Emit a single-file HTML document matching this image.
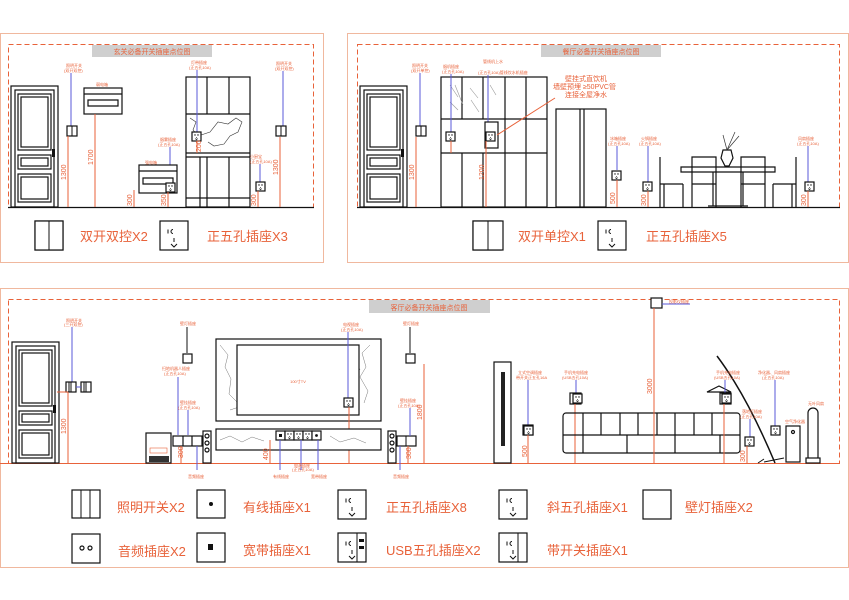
<!DOCTYPE html>
<html><head><meta charset="utf-8"><style>
html,body{margin:0;padding:0;background:#fff;}
svg{display:block;font-family:"Liberation Sans","Noto Sans CJK SC",sans-serif;}
.o{stroke:#e8623a;fill:none;stroke-width:1}
.k{stroke:#111;fill:#fff;stroke-width:1.2}
.kn{stroke:#111;fill:none;stroke-width:1.2}
.b{stroke:#5a5ad8;stroke-width:1;fill:none}
.t{fill:#e8623a;font-size:13px}
.s{fill:#e8623a;font-size:4px}
.d{fill:#e8623a;font-size:7px}
</style></head><body>
<svg width="849" height="600" viewBox="0 0 849 600">
<defs>
<g id="out"><rect x="0" y="0" width="9" height="9" class="k"/><circle cx="3" cy="3" r=".7" fill="#111"/><circle cx="6" cy="3" r=".7" fill="#111"/><path d="M4.5 5v1.3M3.3 6.5l1.2 1.3 1.2-1.3" stroke="#111" stroke-width=".6" fill="none"/></g>
<g id="sw"><rect x="0" y="0" width="10" height="10" class="k"/><line x1="5" y1="0" x2="5" y2="10" stroke="#111"/></g>
<g id="door"><rect x="0" y="0" width="47" height="121" class="k" stroke-width="1.5"/><rect x="4" y="4" width="39" height="117" class="kn"/><rect x="7" y="8" width="33" height="56" class="kn"/><rect x="10" y="11" width="27" height="50" class="kn"/><rect x="7" y="69" width="33" height="14" class="kn"/><rect x="10" y="72" width="27" height="8" class="kn"/><rect x="7" y="88" width="33" height="28" class="kn"/><rect x="10" y="91" width="27" height="22" class="kn"/><rect x="41" y="63" width="3" height="8" fill="#111"/></g>
<g id="bigout"><rect x="0" y="0" width="28" height="29" class="k" stroke-width="1.3"/><path d="M8 8.5v4M13 8.5a2 2 0 0 0 0 4M14 17v4M11 23l3 3 3-3" stroke="#111" stroke-width="1" fill="none"/></g>
</defs>

<!-- ================= TOP LEFT ================= -->
<rect x="0.5" y="33.5" width="323" height="229" fill="none" stroke="#f0b89e" stroke-width="1"/>
<rect x="8.5" y="44.5" width="305" height="163" class="o" stroke-dasharray="5,3"/>
<rect x="92" y="45" width="120" height="12" fill="#cfcfcf"/>
<text x="152" y="54" text-anchor="middle" class="d">玄关必备开关插座点位图</text>
<line x1="8" y1="207.5" x2="314" y2="207.5" stroke="#111" stroke-width="1.2"/>
<use href="#door" x="11" y="86"/>
<text x="66" y="67" class="s">照明开关</text><text x="64" y="72" class="s">(双开双控)</text>
<line x1="71" y1="73" x2="71" y2="126" class="b"/>
<use href="#sw" x="67" y="126"/>
<line x1="68" y1="136" x2="68" y2="207" class="o"/><text x="66" y="180" class="d" transform="rotate(-90 66 180)">1300</text>
<text x="96" y="86" class="s">弱电箱</text>
<rect x="84" y="88" width="38" height="26" class="k"/><path d="M84 94h38M88 100h30v6H88z" class="kn" stroke-width=".8"/>
<line x1="95" y1="114" x2="95" y2="207" class="o"/><text x="93" y="165" class="d" transform="rotate(-90 93 165)">1700</text>
<text x="160" y="141" class="s">烟雾插座</text><text x="158" y="146" class="s">(正五孔10A)</text>
<line x1="170" y1="147" x2="170" y2="183" class="b"/>
<text x="145" y="164" class="s">强电箱</text>
<rect x="139" y="165" width="38" height="28" class="k"/><path d="M139 171h38M143 178h30v6h-30z" class="kn" stroke-width=".8"/>
<use href="#out" x="166" y="183"/>
<line x1="134" y1="190" x2="134" y2="207" class="o"/><text x="132" y="206" class="d" transform="rotate(-90 132 206)">300</text>
<line x1="168" y1="192" x2="168" y2="207" class="o"/><text x="166" y="206" class="d" transform="rotate(-90 166 206)">350</text>
<!-- cabinet -->
<rect x="186" y="77" width="64" height="130" class="k" stroke-width="1.5"/>
<path d="M207 77v37M229 77v37M186 114h64M186 153h64M186 157h64M207 157v50M229 157v50M186 198h64M200 157v50" class="kn"/>
<path d="M190 118l6 4 -3 8 5 6 12 -4 8 -10 10 2 8 -6 6 4 -4 10 -8 4 -6 8 -10 2 -6 -4" stroke="#333" stroke-width=".6" fill="none"/>
<text x="191" y="64" class="s">灯带插座</text><text x="189" y="69" class="s">(正五孔10A)</text>
<line x1="197" y1="70" x2="197" y2="132" class="b"/>
<use href="#out" x="192" y="132"/>
<line x1="197" y1="141" x2="197" y2="153" class="o"/><text x="201" y="152" class="d" transform="rotate(-90 201 152)">200</text>
<text x="250" y="158" class="s">小厨宝</text><text x="250" y="163" class="s">(正五孔10A)</text>
<line x1="260" y1="164" x2="260" y2="182" class="b"/>
<use href="#out" x="256" y="182"/>
<line x1="258" y1="191" x2="258" y2="207" class="o"/><text x="256" y="206" class="d" transform="rotate(-90 256 206)">300</text>
<text x="276" y="65" class="s">照明开关</text><text x="275" y="70" class="s">(双开双控)</text>
<line x1="283" y1="71" x2="283" y2="126" class="b"/>
<use href="#sw" x="276" y="126"/>
<line x1="280" y1="137" x2="280" y2="207" class="o"/><text x="278" y="175" class="d" transform="rotate(-90 278 175)">1300</text>
<use href="#bigout" x="35" y="221" transform="translate(0 0)"/>
<rect x="35" y="221" width="28" height="29" class="k" stroke-width="1.3"/><line x1="49" y1="221" x2="49" y2="250" stroke="#111"/>
<text x="80" y="241" class="t" font-size="14">双开双控X2</text>
<use href="#bigout" x="160" y="221"/>
<text x="207" y="241" class="t" font-size="14">正五孔插座X3</text>

<!-- ================= TOP RIGHT ================= -->
<rect x="347.5" y="33.5" width="501" height="229" fill="none" stroke="#f0b89e" stroke-width="1"/>
<rect x="357.5" y="44.5" width="482" height="163" class="o" stroke-dasharray="5,3"/>
<rect x="541" y="45" width="120" height="12" fill="#cfcfcf"/>
<text x="601" y="54" text-anchor="middle" class="d">餐厅必备开关插座点位图</text>
<line x1="357" y1="207.5" x2="840" y2="207.5" stroke="#111" stroke-width="1.2"/>
<use href="#door" x="360" y="86"/>
<text x="412" y="67" class="s">照明开关</text><text x="411" y="72" class="s">(双开单控)</text>
<line x1="420" y1="73" x2="420" y2="126" class="b"/>
<use href="#sw" x="416" y="126"/>
<line x1="416" y1="137" x2="416" y2="207" class="o"/><text x="414" y="180" class="d" transform="rotate(-90 414 180)">1300</text>
<rect x="441" y="77" width="106" height="130" class="k" stroke-width="1.5"/>
<path d="M462 77v42M483 77v42M505 77v130M526 77v130M441 119h106M441 153h106M462 153v54M483 153v54" class="kn"/>
<path d="M450 85l8 12M455 85l8 20M470 88l8 10M471 100l8 12M490 85l6 10M450 102l8 8" stroke="#999" stroke-width=".6"/>
<text x="443" y="68" class="s">烟机插座</text><text x="442" y="73" class="s">(正五孔10A)</text>
<line x1="451" y1="74" x2="451" y2="132" class="b"/>
<use href="#out" x="446" y="132"/>
<line x1="451" y1="141" x2="451" y2="153" class="o"/>
<text x="483" y="63" class="s">管线机上水</text><text x="478" y="74" class="s">(正五孔10A)管线饮水机插座</text>
<line x1="488" y1="75" x2="488" y2="124" class="b"/>
<rect x="485" y="122" width="13" height="26" class="k"/>
<use href="#out" x="486" y="132"/>
<line x1="486" y1="141" x2="486" y2="207" class="o"/><text x="484" y="180" class="d" transform="rotate(-90 484 180)">1200</text>
<line x1="497" y1="135" x2="555" y2="98" class="o"/>
<text x="565" y="81" class="d" font-size="6">壁挂式直饮机</text>
<text x="553" y="89" class="d" font-size="6">墙壁预埋 ≥50PVC管</text>
<text x="565" y="97" class="d" font-size="6">连接全屋净水</text>
<rect x="556" y="109" width="50" height="98" class="k"/><path d="M580 109v98M584 109v98" class="kn"/>
<text x="610" y="140" class="s">冰箱插座</text><text x="608" y="145" class="s">(正五孔10A)</text>
<line x1="617" y1="146" x2="617" y2="170" class="b"/><use href="#out" x="612" y="171"/>
<line x1="617" y1="180" x2="617" y2="207" class="o"/><text x="615" y="204" class="d" transform="rotate(-90 615 204)">500</text>
<text x="641" y="140" class="s">火锅插座</text><text x="639" y="145" class="s">(正五孔10A)</text>
<line x1="648" y1="146" x2="648" y2="182" class="b"/><use href="#out" x="643" y="182"/>
<line x1="648" y1="191" x2="648" y2="207" class="o"/><text x="646" y="206" class="d" transform="rotate(-90 646 206)">300</text>
<text x="798" y="140" class="s">风扇插座</text><text x="797" y="145" class="s">(正五孔10A)</text>
<line x1="808" y1="146" x2="808" y2="182" class="b"/><use href="#out" x="805" y="182"/>
<line x1="808" y1="191" x2="808" y2="207" class="o"/><text x="806" y="206" class="d" transform="rotate(-90 806 206)">300</text>
<!-- dining -->
<path d="M681 167h94v5h-94zM713 172v34M743 172v34M708 206h40" class="kn"/>
<path d="M660 157v50M660 184h23M683 184v23M664 184v23" class="kn"/>
<path d="M692 157h24v27h-24zM692 184v23M716 184v23" class="kn"/>
<path d="M741 157h24v27h-24zM741 184v23M765 184v23" class="kn"/>
<path d="M796 157v50M773 184h23M773 184v23M792 184v23" class="kn"/>
<path d="M723 150l-2 8 4 8h4l4-8 -2-8z" class="kn"/>
<path d="M727 150l-4-15M727 150l8-18M727 150l12-14" stroke="#333" stroke-width=".7"/>
<use href="#bigout" x="473" y="221"/>
<rect x="473" y="221" width="30" height="29" class="k" stroke-width="1.3"/><line x1="488" y1="221" x2="488" y2="250" stroke="#111"/>
<text x="518" y="241" class="t" font-size="14">双开单控X1</text>
<use href="#bigout" x="598" y="221"/>
<text x="646" y="241" class="t" font-size="14">正五孔插座X5</text>

<!-- ================= BOTTOM ================= -->
<rect x="0.5" y="288.5" width="848" height="279" fill="none" stroke="#f0b89e" stroke-width="1"/>
<rect x="8.5" y="299.5" width="831" height="164" class="o" stroke-dasharray="5,3"/>
<rect x="369" y="300" width="121" height="13" fill="#cfcfcf"/>
<text x="429" y="310" text-anchor="middle" class="d">客厅必备开关插座点位图</text>
<line x1="0" y1="463.5" x2="840" y2="463.5" class="o" stroke-width="1.2"/>
<use href="#door" x="12" y="342"/>
<text x="66" y="322" class="s">照明开关</text><text x="64" y="326" class="s">(三开双控)</text>
<line x1="72" y1="327" x2="72" y2="383" class="b"/>
<use href="#sw" x="66" y="382"/><line x1="69" y1="382" x2="69" y2="392" stroke="#111"/>
<use href="#sw" x="81" y="382"/><line x1="84" y1="382" x2="84" y2="392" stroke="#111"/>
<line x1="76" y1="387" x2="81" y2="387" class="b"/>
<line x1="57" y1="392" x2="68" y2="392" stroke="#e8623a"/>
<line x1="68" y1="392" x2="68" y2="463" class="o"/><text x="66" y="434" class="d" transform="rotate(-90 66 434)">1300</text>
<!-- wall lamps -->
<text x="180" y="325" class="s">壁灯插座</text><line x1="187" y1="327" x2="187" y2="353" stroke="#111"/>
<rect x="183" y="354" width="9" height="9" class="k"/>
<text x="403" y="325" class="s">壁灯插座</text><line x1="410" y1="327" x2="410" y2="353" stroke="#111"/>
<rect x="406" y="354" width="9" height="9" class="k"/>
<!-- left console -->
<text x="162" y="370" class="s">扫地机器人插座</text><text x="164" y="375" class="s">(正五孔10A)</text>
<line x1="178" y1="377" x2="178" y2="435" class="b"/>
<text x="180" y="404" class="s">壁挂插座</text><text x="178" y="409" class="s">(正五孔10A)</text>
<line x1="188" y1="410" x2="188" y2="435" class="b"/>
<rect x="146" y="433" width="25" height="30" class="k"/><rect x="150" y="448" width="17" height="5" fill="none" stroke="#e8623a" stroke-width=".6"/>
<rect x="149" y="456" width="20" height="6" fill="#333"/>
<rect x="173" y="436" width="29" height="10" class="k"/><path d="M183 436v10M192 436v10" class="kn"/>
<line x1="181" y1="446" x2="181" y2="463" class="o"/><text x="183" y="458" class="d" transform="rotate(-90 183 458)">300</text>
<line x1="197" y1="446" x2="197" y2="470" class="b"/>
<rect x="203" y="431" width="8" height="32" class="k"/><circle cx="207" cy="436" r="2" class="kn"/><circle cx="207" cy="443" r="2" class="kn"/><circle cx="207" cy="450" r="2" class="kn"/>
<!-- TV wall -->
<rect x="216" y="339" width="165" height="82" class="k" stroke-width="1.3"/>
<path d="M220 345l8 10 -3 12 6 12 -2 15 10 10M370 345l-8 8 4 14 -6 10 8 14 -4 12M230 410l18-6 12 8M340 350l14 6 6 14" stroke="#777" stroke-width=".5" fill="none"/>
<rect x="237" y="345" width="122" height="70" class="k" stroke-width="1.5"/>
<text x="298" y="383" class="s" text-anchor="middle">100寸TV</text>
<text x="343" y="326" class="s">电视插座</text><text x="341" y="331" class="s">(正五孔10A)</text>
<line x1="348" y1="332" x2="348" y2="398" class="b"/>
<use href="#out" x="344" y="398"/>
<line x1="349" y1="407" x2="349" y2="463" class="o"/><text x="347" y="446" class="d" transform="rotate(-90 347 446)">1100</text>
<rect x="216" y="429" width="165" height="21" class="k" stroke-width="1.3"/>
<path d="M220 440l10-4 12 6 10-5 12 4M330 436l10 6 14-4 12 5" stroke="#777" stroke-width=".5" fill="none"/>
<rect x="276" y="431" width="9" height="9" class="k"/><rect x="279" y="434" width="3" height="3" fill="#111"/>
<use href="#out" x="285" y="431"/><use href="#out" x="294" y="431"/><use href="#out" x="303" y="431"/>
<rect x="312" y="431" width="9" height="9" class="k"/><circle cx="316.5" cy="435.5" r="1.4" fill="#111"/>
<line x1="280" y1="440" x2="280" y2="470" class="b"/><line x1="301" y1="440" x2="301" y2="470" class="b"/><line x1="318" y1="440" x2="318" y2="470" class="b"/>
<text x="294" y="467" class="s">电源插座</text><text x="292" y="471" class="s">(正五孔10A)</text>
<text x="273" y="478" class="s">有线插座</text><text x="311" y="478" class="s">宽带插座</text>
<line x1="270" y1="440" x2="270" y2="463" class="o"/><text x="268" y="460" class="d" transform="rotate(-90 268 460)">400</text>
<rect x="388" y="431" width="8" height="32" class="k"/><circle cx="392" cy="436" r="2" class="kn"/><circle cx="392" cy="443" r="2" class="kn"/><circle cx="392" cy="450" r="2" class="kn"/>
<rect x="397" y="436" width="19" height="10" class="k"/><line x1="406" y1="436" x2="406" y2="446" stroke="#111"/>
<text x="400" y="402" class="s">壁挂插座</text><text x="398" y="407" class="s">(正五孔10A)</text>
<line x1="410" y1="408" x2="410" y2="436" class="b"/>
<line x1="408" y1="446" x2="408" y2="463" class="o"/><text x="411" y="459" class="d" transform="rotate(-90 411 459)">300</text>
<line x1="400" y1="446" x2="400" y2="470" class="b"/>
<text x="268" y="478" class="s"> </text>
<line x1="424" y1="364" x2="424" y2="463" class="o"/><text x="422" y="420" class="d" transform="rotate(-90 422 420)">1800</text>
<text x="188" y="478" class="s">音频插座</text><text x="393" y="478" class="s">音频插座</text>
<!-- AC -->
<rect x="494" y="362" width="17" height="101" class="k" stroke-width="1.3"/><rect x="501" y="372" width="4" height="74" fill="#222"/>
<text x="518" y="374" class="s">立式空调插座</text><text x="516" y="379" class="s">带开关正五孔16A</text>
<line x1="528" y1="380" x2="528" y2="425" class="b"/>
<rect x="523" y="425" width="10" height="10" class="k"/><use href="#out" x="524" y="426"/>
<line x1="528" y1="435" x2="528" y2="463" class="o"/><text x="527" y="457" class="d" transform="rotate(-90 527 457)">500</text>
<text x="564" y="374" class="s">手机充电插座</text><text x="562" y="379" class="s">(USB五孔10A)</text>
<line x1="576" y1="380" x2="576" y2="393" class="b"/>
<rect x="570" y="393" width="11" height="11" class="k"/><use href="#out" x="573" y="394"/>
<line x1="575" y1="404" x2="575" y2="463" class="o"/>
<!-- sofa -->
<g class="kn" stroke-width="1">
<rect x="563" y="413" width="177" height="40" rx="3"/>
<path d="M563 435h177M583 413v22M601 413v22M620 413v22M638 413v22M657 413v22M675 413v22M694 413v22M712 413v22M583 435v18M627 435v18M675 435v18M720 435v18"/>
</g>
<!-- top socket -->
<rect x="651" y="298" width="11" height="10" class="k"/>
<line x1="662" y1="304" x2="690" y2="304" class="b"/>
<text x="669" y="303" class="s">投影仪插座</text>
<line x1="654" y1="308" x2="654" y2="463" class="o"/><text x="652" y="394" class="d" transform="rotate(-90 652 394)">3000</text>
<!-- lamp -->
<path d="M717 356q30 40 58 107" stroke="#111" stroke-width="1.5" fill="none"/>
<path d="M707 392l12-6 12 6z" class="kn"/>
<path d="M764 462l20-4M758 463l6-4" stroke="#111"/>
<text x="716" y="374" class="s">手机充电插座</text><text x="714" y="379" class="s">(USB五孔10A)</text>
<line x1="725" y1="380" x2="725" y2="394" class="b"/>
<rect x="720" y="393" width="11" height="11" class="k"/><use href="#out" x="722" y="394"/>
<line x1="724" y1="404" x2="724" y2="463" class="o"/>
<text x="742" y="413" class="s">落地灯插座</text><text x="740" y="418" class="s">(正五孔10A)</text>
<line x1="750" y1="419" x2="750" y2="437" class="b"/><use href="#out" x="745" y="437"/>
<line x1="747" y1="446" x2="747" y2="463" class="o"/><text x="745" y="462" class="d" transform="rotate(-90 745 462)">300</text>
<text x="758" y="374" class="s">净化器、风扇插座</text><text x="762" y="379" class="s">(正五孔10A)</text>
<line x1="775" y1="380" x2="775" y2="426" class="b"/><use href="#out" x="771" y="426"/>
<text x="785" y="423" class="s">空气净化器</text>
<rect x="786" y="426" width="14" height="36" class="k"/><circle cx="793" cy="432" r="1.5" class="kn"/>
<text x="808" y="405" class="s">无叶风扇</text>
<rect x="808" y="408" width="10" height="54" rx="5" class="k"/><rect x="806" y="458" width="14" height="5" class="k"/>

<!-- legend -->
<rect x="72" y="490" width="28" height="28" class="k" stroke-width="1.3"/><path d="M81 490v28M90 490v28" stroke="#111"/>
<text x="117" y="512" class="t">照明开关X2</text>
<rect x="197" y="490" width="28" height="28" class="k" stroke-width="1.3"/><circle cx="211" cy="504" r="2" fill="#111"/>
<text x="243" y="512" class="t">有线插座X1</text>
<use href="#bigout" x="338" y="490"/>
<text x="386" y="512" class="t">正五孔插座X8</text>
<use href="#bigout" x="499" y="490"/>
<text x="547" y="512" class="t">斜五孔插座X1</text>
<rect x="643" y="490" width="28" height="29" class="k" stroke-width="1.3"/>
<text x="685" y="512" class="t" fill="#f0a080">壁灯插座X2</text>
<rect x="72" y="534" width="28" height="29" class="k" stroke-width="1.3"/><circle cx="82" cy="548" r="2" class="kn"/><circle cx="90" cy="548" r="2" class="kn"/>
<text x="118" y="556" class="t">音频插座X2</text>
<rect x="197" y="533" width="28" height="29" class="k" stroke-width="1.3"/><rect x="208" y="544" width="5" height="6" fill="#111"/>
<text x="243" y="555" class="t">宽带插座X1</text>
<use href="#bigout" x="338" y="533"/><line x1="357" y1="533" x2="357" y2="562" stroke="#111"/><rect x="359" y="539" width="5" height="3" fill="#111"/><rect x="359" y="546" width="5" height="3" fill="#111"/>
<text x="386" y="555" class="t">USB五孔插座X2</text>
<use href="#bigout" x="499" y="533"/><line x1="518" y1="533" x2="518" y2="562" stroke="#111"/>
<text x="547" y="555" class="t">带开关插座X1</text>
</svg>
</body></html>
